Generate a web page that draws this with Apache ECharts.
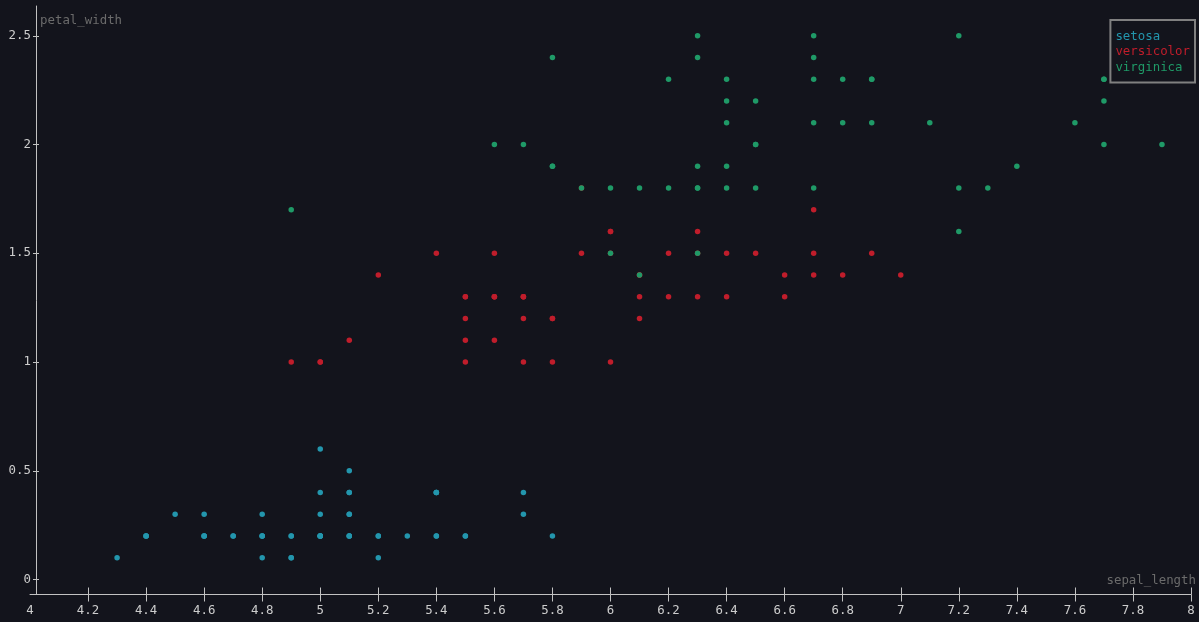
<!DOCTYPE html>
<html>
<head>
<meta charset="utf-8">
<script src="https://cdn.jsdelivr.net/npm/echarts@6/dist/echarts.min.js"></script>
<style>
  html, body { margin: 0; padding: 0; background: #13141c; }
  #chart { width: 1199px; height: 622px; }
</style>
</head>
<body>
<div id="chart"></div>
<script>
// Iris measurements: sepal length (cm) against petal width (cm), per species
const speciesNames = ['setosa', 'versicolor', 'virginica'];

const setosaSepalLength = [5.1,4.9,4.7,4.6,5.0,5.4,4.6,5.0,4.4,4.9,5.4,4.8,4.8,4.3,5.8,5.7,5.4,5.1,5.7,5.1,5.4,5.1,4.6,5.1,4.8,5.0,5.0,5.2,5.2,4.7,4.8,5.4,5.2,5.5,4.9,5.0,5.5,4.9,4.4,5.1,5.0,4.5,4.4,5.0,5.1,4.8,5.1,4.6,5.3,5.0];
const setosaPetalWidth  = [0.2,0.2,0.2,0.2,0.2,0.4,0.3,0.2,0.2,0.1,0.2,0.2,0.1,0.1,0.2,0.4,0.4,0.3,0.3,0.3,0.2,0.4,0.2,0.5,0.2,0.2,0.4,0.2,0.2,0.2,0.2,0.4,0.1,0.2,0.2,0.2,0.2,0.1,0.2,0.2,0.3,0.3,0.2,0.6,0.4,0.3,0.2,0.2,0.2,0.2];

const versicolorSepalLength = [7.0,6.4,6.9,5.5,6.5,5.7,6.3,4.9,6.6,5.2,5.0,5.9,6.0,6.1,5.6,6.7,5.6,5.8,6.2,5.6,5.9,6.1,6.3,6.1,6.4,6.6,6.8,6.7,6.0,5.7,5.5,5.5,5.8,6.0,5.4,6.0,6.7,6.3,5.6,5.5,5.5,6.1,5.8,5.0,5.6,5.7,5.7,6.2,5.1,5.7];
const versicolorPetalWidth  = [1.4,1.5,1.5,1.3,1.5,1.3,1.6,1.0,1.3,1.4,1.0,1.5,1.0,1.4,1.3,1.4,1.5,1.0,1.5,1.1,1.8,1.3,1.5,1.2,1.3,1.4,1.4,1.7,1.5,1.0,1.1,1.0,1.2,1.6,1.5,1.6,1.5,1.3,1.3,1.3,1.2,1.4,1.2,1.0,1.3,1.2,1.3,1.3,1.1,1.3];

const virginicaSepalLength = [6.3,5.8,7.1,6.3,6.5,7.6,4.9,7.3,6.7,7.2,6.5,6.4,6.8,5.7,5.8,6.4,6.5,7.7,7.7,6.0,6.9,5.6,7.7,6.3,6.7,7.2,6.2,6.1,6.4,7.2,7.4,7.9,6.4,6.3,6.1,7.7,6.3,6.4,6.0,6.9,6.7,6.9,5.8,6.8,6.7,6.7,6.3,6.5,6.2,5.9];
const virginicaPetalWidth  = [2.5,1.9,2.1,1.8,2.2,2.1,1.7,1.8,1.8,2.5,2.0,1.9,2.1,2.0,2.4,2.3,1.8,2.2,2.3,1.5,2.3,2.0,2.0,1.8,2.1,1.8,1.8,1.8,2.1,1.6,1.9,2.0,2.2,1.5,1.4,2.3,2.4,1.8,1.8,2.1,2.4,2.3,1.9,2.3,2.5,2.3,1.9,2.0,2.3,1.8];

// Axis ticks and labels
const xLabelValues = [4,4.2,4.4,4.6,4.8,5,5.2,5.4,5.6,5.8,6,6.2,6.4,6.6,6.8,7,7.2,7.4,7.6,7.8,8];
const xTickValues  = [4.2,4.4,4.6,4.8,5,5.2,5.4,5.6,5.8,6,6.2,6.4,6.6,6.8,7,7.2,7.4,7.6,7.8,8];
const yTickValues  = [0,0.5,1,1.5,2,2.5];

const speciesColors = ['#2396ad', '#c01d2b', '#1f9a67'];

const FONT = '"DejaVu Sans Mono", "Liberation Mono", monospace';
const FONT_SIZE = 12.4;
const AXIS_COLOR = '#c2c2c2';
const LABEL_COLOR = '#cdcdcd';
const NAME_COLOR = '#6b6b6b';

function zip(xs, ys) { return xs.map((x, i) => [x, ys[i]]); }

const seriesData = [
  zip(setosaSepalLength, setosaPetalWidth),
  zip(versicolorSepalLength, versicolorPetalWidth),
  zip(virginicaSepalLength, virginicaPetalWidth)
];

const chart = echarts.init(document.getElementById('chart'), null, { renderer: 'canvas' });

const tickLine = { color: AXIS_COLOR, width: 1 };

chart.setOption({
  backgroundColor: '#13141c',
  animation: false,
  textStyle: { fontFamily: FONT },
  grid: { left: 30, right: 7, top: 6, bottom: 27.5, containLabel: false },
  legend: {
    orient: 'vertical',
    right: 4,
    top: 20,
    padding: [9, 5, 7, 0],
    borderColor: '#808080',
    borderWidth: 2,
    itemGap: 0,
    itemWidth: 0,
    itemHeight: 15.5,
    icon: 'rect',
    itemStyle: { opacity: 0 },
    textStyle: { fontFamily: FONT, fontSize: FONT_SIZE, lineHeight: 15.5 },
    data: speciesNames.map((n, i) => ({ name: n, textStyle: { color: speciesColors[i] } }))
  },
  xAxis: [
    {
      type: 'value', min: 4, max: 8, interval: 0.2, position: 'bottom',
      splitLine: { show: false },
      axisLine: { show: true, onZero: false, lineStyle: tickLine },
      axisTick: { show: true, length: 7, lineStyle: tickLine, customValues: xTickValues },
      axisLabel: {
        customValues: xLabelValues, margin: 10, color: LABEL_COLOR,
        fontFamily: FONT, fontSize: FONT_SIZE, formatter: v => String(v)
      },
      name: 'sepal_length', nameLocation: 'end', nameGap: 5,
      nameTextStyle: {
        color: NAME_COLOR, fontFamily: FONT, fontSize: FONT_SIZE,
        align: 'right', verticalAlign: 'bottom', lineHeight: 28
      }
    },
    {
      type: 'value', min: 4, max: 8, interval: 0.2, position: 'bottom',
      splitLine: { show: false },
      axisLine: { show: false, onZero: false },
      axisLabel: { show: false },
      axisTick: { show: true, inside: true, length: 7, lineStyle: tickLine, customValues: xTickValues }
    }
  ],
  yAxis: [
    {
      type: 'value', min: -0.069, max: 2.637, position: 'left', offset: -6,
      splitLine: { show: false },
      axisLine: { show: true, onZero: false, lineStyle: tickLine },
      axisTick: { show: true, length: 3, lineStyle: tickLine, customValues: yTickValues },
      axisLabel: {
        customValues: yTickValues, margin: 5, color: LABEL_COLOR,
        fontFamily: FONT, fontSize: FONT_SIZE, formatter: v => String(v)
      },
      name: 'petal_width', nameLocation: 'end', nameGap: -15,
      nameTextStyle: {
        color: NAME_COLOR, fontFamily: FONT, fontSize: FONT_SIZE,
        align: 'left', verticalAlign: 'middle', padding: [0, 0, 0, 4]
      }
    },
    {
      type: 'value', min: -0.069, max: 2.637, position: 'left', offset: -6,
      splitLine: { show: false },
      axisLine: { show: false, onZero: false },
      axisLabel: { show: false },
      axisTick: { show: true, inside: true, length: 3, lineStyle: tickLine, customValues: yTickValues }
    }
  ],
  series: speciesNames.map((name, i) => ({
    name: name,
    type: 'scatter',
    xAxisIndex: 0,
    yAxisIndex: 0,
    symbol: 'circle',
    symbolSize: 5.5,
    itemStyle: { color: speciesColors[i], opacity: 1 },
    emphasis: { disabled: true },
    data: seriesData[i]
  }))
});
</script>
</body>
</html>
